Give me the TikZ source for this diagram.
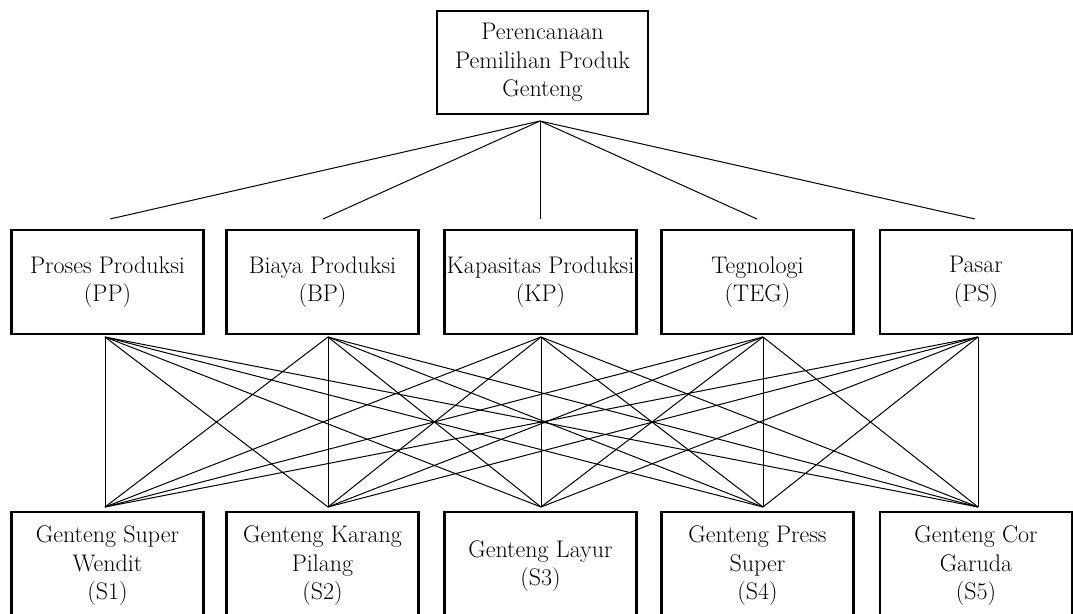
\documentclass[tikz,border=0pt]{standalone}
\begin{document}
\begin{tikzpicture}[x=1pt,y=-1pt,
  box/.style={draw=black, line width=2.2pt, align=center, inner sep=0pt,
    minimum width=192pt, font=\fontsize{24}{28.5}\selectfont},
  midbox/.style={box, minimum height=104pt},
  botbox/.style={box, minimum height=108pt},
  link/.style={draw=black, line width=1pt}]
\useasboundingbox (0,0) rectangle (1073,613);
\clip (0,0) rectangle (1073,613);
% top
\node[box, minimum width=211pt, minimum height=103pt] (goal) at (542.5,62.5)
  {Perencanaan\\Pemilihan Produk\\Genteng};
% criteria
\node[midbox] (pp)  at (107.5,282) {Proses Produksi\\(PP)};
\node[midbox] (bp)  at (322.5,282) {Biaya Produksi\\(BP)};
\node[midbox] (kp)  at (540.5,282) {Kapasitas Produksi\\(KP)};
\node[midbox] (teg) at (757.5,282) {Tegnologi\\(TEG)};
\node[midbox] (ps)  at (976,282)   {Pasar\\(PS)};
% alternatives
\node[botbox] (s1) at (107.5,566) {Genteng Super\\Wendit\\(S1)};
\node[botbox] (s2) at (322.5,566) {Genteng Karang\\Pilang\\(S2)};
\node[botbox] (s3) at (540.5,566) {Genteng Layur\\(S3)};
\node[botbox] (s4) at (757.5,566) {Genteng Press\\Super\\(S4)};
\node[botbox] (s5) at (976,566)   {Genteng Cor\\Garuda\\(S5)};
% connection points
\coordinate (g) at (540,121);
\coordinate (pp-t) at (110,219);
\coordinate (bp-t) at (323,219);
\coordinate (kp-t) at (540,219);
\coordinate (teg-t) at (757,219);
\coordinate (ps-t) at (975,219);
\coordinate (pp-b) at (105,337);
\coordinate (bp-b) at (328,337);
\coordinate (kp-b) at (541,337);
\coordinate (teg-b) at (763,337);
\coordinate (ps-b) at (978,337);
\coordinate (s1-t) at (105,507);
\coordinate (s2-t) at (328,507);
\coordinate (s3-t) at (541,507);
\coordinate (s4-t) at (763,507);
\coordinate (s5-t) at (978,507);
\foreach \c in {pp,bp,kp,teg,ps}
  \draw[link] (g) -- (\c-t);
\foreach \c in {pp,bp,kp,teg,ps}
  \foreach \s in {s1,s2,s3,s4,s5}
    \draw[link] (\c-b) -- (\s-t);
\end{tikzpicture}
\end{document}
